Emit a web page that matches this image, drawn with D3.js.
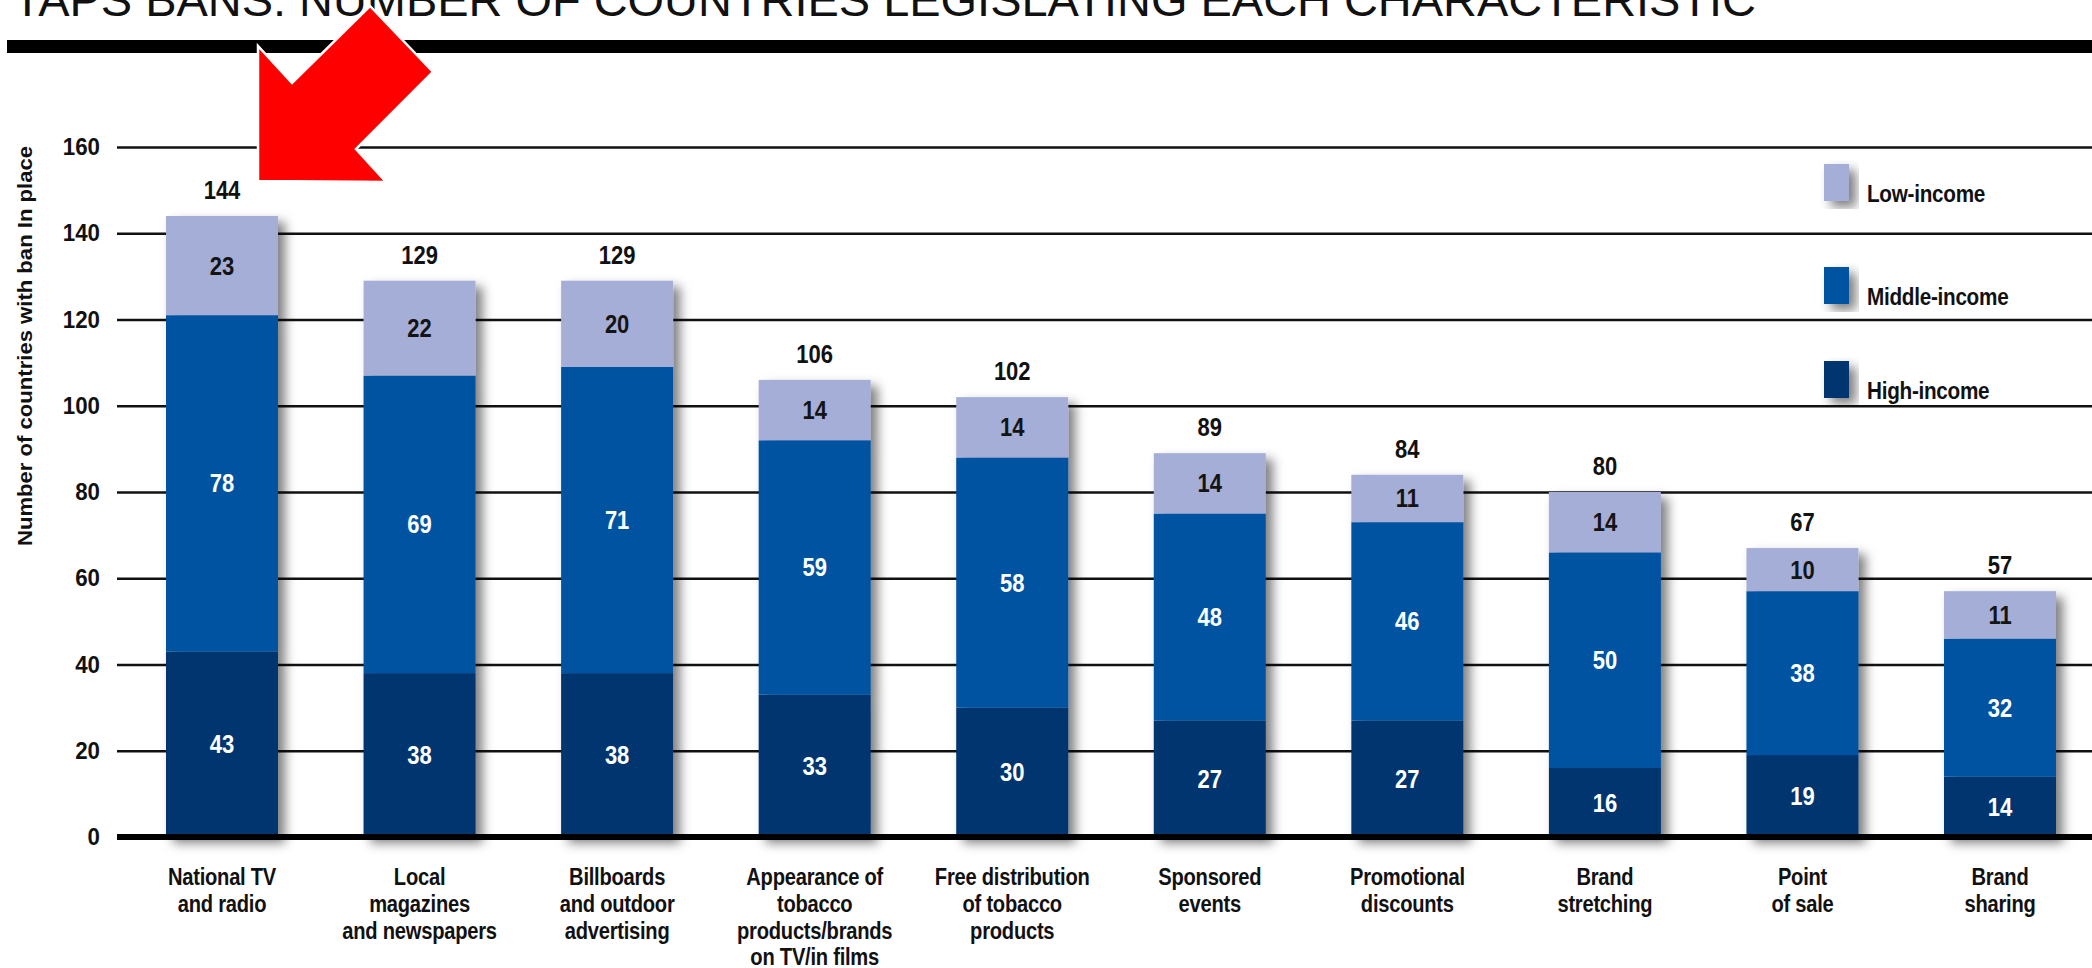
<!DOCTYPE html>
<html>
<head>
<meta charset="utf-8">
<script src="https://cdn.jsdelivr.net/npm/d3@7"></script>
<style>
  html, body { margin: 0; padding: 0; background: #fff; }
  svg { display: block; }
</style>
</head>
<body>
<svg id="chart" width="2092" height="968"></svg>
<script>
// ---------------- data ----------------
const categories = [
  ["National TV", "and radio"],
  ["Local", "magazines", "and newspapers"],
  ["Billboards", "and outdoor", "advertising"],
  ["Appearance of", "tobacco", "products/brands", "on TV/in films"],
  ["Free distribution", "of tobacco", "products"],
  ["Sponsored", "events"],
  ["Promotional", "discounts"],
  ["Brand", "stretching"],
  ["Point", "of sale"],
  ["Brand", "sharing"]
];
const highIncome   = [43, 38, 38, 33, 30, 27, 27, 16, 19, 14];
const middleIncome = [78, 69, 71, 59, 58, 48, 46, 50, 38, 32];
const lowIncome    = [23, 22, 20, 14, 14, 14, 11, 14, 10, 11];
const totals       = [144, 129, 129, 106, 102, 89, 84, 80, 67, 57];
const seriesKeys   = ["High-income", "Middle-income", "Low-income"];
const legendOrder  = ["Low-income", "Middle-income", "High-income"];
const yTicks       = [0, 20, 40, 60, 80, 100, 120, 140, 160];
const titleText    = "TAPS BANS: NUMBER OF COUNTRIES LEGISLATING EACH CHARACTERISTIC";
const yTitle       = "Number of countries with ban  In place";

// ---------------- setup ----------------
const W = 2092, H = 968;
const FONT = "'Liberation Sans', Arial, sans-serif";
const colors = { "High-income": "#003570", "Middle-income": "#0052a0", "Low-income": "#a5aed6" };
const labelColors = { "High-income": "#ffffff", "Middle-income": "#ffffff", "Low-income": "#141414" };
const SX_NUM = 0.88, SX_CAT = 0.84, SX_LEG = 0.9;

const svg = d3.select("#chart");

const defs = svg.append("defs");
const f = defs.append("filter").attr("id", "shadow")
  .attr("x", "-20%").attr("y", "-10%").attr("width", "160%").attr("height", "130%");
f.append("feDropShadow").attr("dx", 7).attr("dy", 6).attr("stdDeviation", 5.5)
  .attr("flood-color", "#000").attr("flood-opacity", 0.5);

const rows = categories.map((c, i) => ({
  idx: i,
  "High-income": highIncome[i],
  "Middle-income": middleIncome[i],
  "Low-income": lowIncome[i],
  total: totals[i]
}));

const x = d3.scalePoint().domain(d3.range(categories.length)).range([222, 2000]);
const barW = 112;
const y = d3.scaleLinear().domain([0, 160]).range([837, 147]);
const axisX = 117;

// ---------------- title + rule ----------------
svg.append("text")
  .attr("x", 13).attr("y", 16)
  .attr("font-family", FONT).attr("font-size", 47).attr("fill", "#111")
  .attr("textLength", 1743).attr("lengthAdjust", "spacingAndGlyphs")
  .text(titleText);

svg.append("rect").attr("x", 7).attr("y", 40).attr("width", W - 7).attr("height", 13).attr("fill", "#000");

// ---------------- gridlines / y axis ----------------
const yAxis = d3.axisLeft(y).tickValues(yTicks).tickSize(-(W - axisX)).tickPadding(17).tickFormat(d3.format("d"));
const gy = svg.append("g").attr("transform", `translate(${axisX},0)`).call(yAxis);
gy.select(".domain").remove();
gy.selectAll(".tick line").attr("stroke", "#111").attr("stroke-width", 2.5);
gy.selectAll(".tick text")
  .attr("font-family", FONT).attr("font-weight", "bold").attr("font-size", 24).attr("fill", "#111")
  .attr("textLength", d => String(d).length * 12.4).attr("lengthAdjust", "spacingAndGlyphs");

// y title
svg.append("text")
  .attr("transform", `translate(32,346) rotate(-90)`)
  .attr("text-anchor", "middle")
  .attr("font-family", FONT).attr("font-weight", "bold").attr("font-size", 21).attr("fill", "#111")
  .attr("textLength", 400).attr("lengthAdjust", "spacingAndGlyphs")
  .text(yTitle);

// ---------------- bars ----------------
const stacked = d3.stack().keys(seriesKeys)(rows);

const barGroups = svg.append("g").selectAll("g.bar")
  .data(rows).join("g").attr("class", "bar").attr("filter", "url(#shadow)");

barGroups.each(function (row) {
  const g = d3.select(this);
  stacked.forEach(layer => {
    const seg = layer[row.idx];
    g.append("rect")
      .attr("x", x(row.idx) - barW / 2)
      .attr("y", y(seg[1]))
      .attr("width", barW)
      .attr("height", y(seg[0]) - y(seg[1]))
      .attr("fill", colors[layer.key]);
  });
});

// segment labels
const labelG = svg.append("g");
stacked.forEach(layer => {
  labelG.selectAll(null).data(layer).join("text")
    .attr("transform", (d, i) => `translate(${x(i)},${(y(d[0]) + y(d[1])) / 2}) scale(${SX_NUM},1)`)
    .attr("dy", "0.36em")
    .attr("text-anchor", "middle")
    .attr("font-family", FONT).attr("font-weight", "bold").attr("font-size", 25)
    .attr("fill", labelColors[layer.key])
    .text(d => d[1] - d[0]);
});

// total labels
svg.append("g").selectAll("text").data(rows).join("text")
  .attr("transform", d => `translate(${x(d.idx)},${y(d.total) - 17}) scale(${SX_NUM},1)`)
  .attr("text-anchor", "middle")
  .attr("font-family", FONT).attr("font-weight", "bold").attr("font-size", 25).attr("fill", "#111")
  .text(d => d.total);

// zero line
svg.append("line")
  .attr("x1", axisX).attr("x2", W)
  .attr("y1", y(0)).attr("y2", y(0))
  .attr("stroke", "#000").attr("stroke-width", 6);

// ---------------- category labels ----------------
const catG = svg.append("g").selectAll("text").data(categories).join("text")
  .attr("text-anchor", "middle")
  .attr("font-family", FONT).attr("font-weight", "bold").attr("font-size", 24).attr("fill", "#111")
  .attr("letter-spacing", -0.3)
  .attr("transform", (d, i) => `translate(${x(i)},885) scale(${SX_CAT},1)`);
catG.selectAll("tspan").data(d => d).join("tspan")
  .attr("x", 0).attr("y", (d, j) => j * 26.8)
  .text(d => d);

// ---------------- legend ----------------
const legendY = { "Low-income": 164, "Middle-income": 267, "High-income": 361 };
const lg = svg.append("g").selectAll("g").data(legendOrder).join("g");
lg.append("rect")
  .attr("x", 1824).attr("y", d => legendY[d])
  .attr("width", 25).attr("height", 37)
  .attr("fill", d => colors[d]).attr("filter", "url(#shadow)");
lg.append("text")
  .attr("transform", d => `translate(1867,${legendY[d] + 38}) scale(${SX_LEG},1)`)
  .attr("font-family", FONT).attr("font-weight", "bold").attr("font-size", 23).attr("fill", "#111")
  .attr("letter-spacing", -0.3)
  .text(d => d);

// ---------------- red arrow annotation ----------------
const arrowPts = [[258, 181], [258, 46], [292, 83], [370, 6], [433, 72], [356, 149], [386, 182]];
svg.append("path")
  .attr("d", d3.line()(arrowPts) + "Z")
  .attr("fill", "#ff0000").attr("stroke", "#ffffff").attr("stroke-width", 2.5)
  .attr("stroke-linejoin", "miter");
</script>
</body>
</html>
